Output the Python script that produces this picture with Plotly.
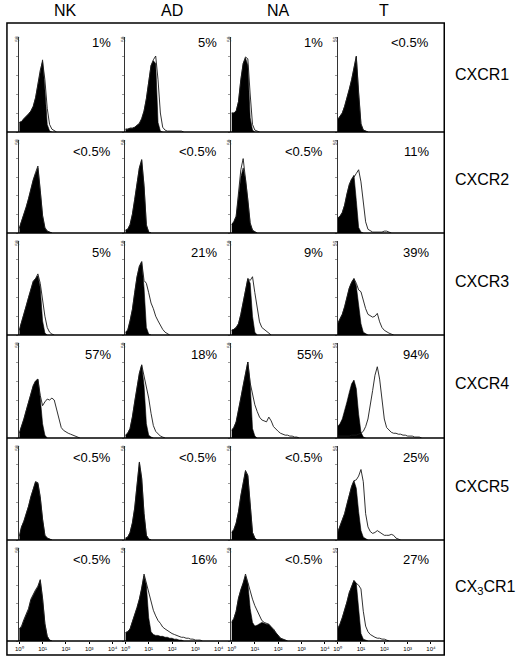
import plotly.graph_objects as go

W, H = 520, 657

# log10 fluorescence channel positions (decades 10^0 .. 10^4)
channels = [0.0, 0.1, 0.2, 0.3, 0.4, 0.5, 0.6, 0.7, 0.8, 0.9, 1.0, 1.1, 1.2, 1.3, 1.4,
            1.5, 1.6, 1.7, 1.8, 1.9, 2.0, 2.1, 2.2, 2.3, 2.4, 2.5, 2.6, 2.7, 2.8, 2.9,
            3.0, 3.1, 3.2, 3.3, 3.4, 3.5, 3.6, 3.7, 3.8, 3.9, 4.0]

cell_types = ["NK", "AD", "NA", "T"]
receptors = ["CXCR1", "CXCR2", "CXCR3", "CXCR4", "CXCR5", "CX<sub>3</sub>CR1"]
x_tick_labels = ["10\u2070", "10\u00b9", "10\u00b2", "10\u00b3", "10\u2074"]

percent_labels = [
    ["1%", "5%", "1%", "<0.5%"],
    ["<0.5%", "<0.5%", "<0.5%", "11%"],
    ["5%", "21%", "9%", "39%"],
    ["57%", "18%", "55%", "94%"],
    ["<0.5%", "<0.5%", "<0.5%", "25%"],
    ["<0.5%", "16%", "<0.5%", "27%"],
]

# ---- histogram heights (% of y-axis height), isotype control (filled) ----
NK_CXCR1_iso = [10, 11, 14, 16, 19, 22, 27, 36, 50, 65, 76, 45, 8, 1, 0]
AD_CXCR1_iso = [3, 3, 4, 4, 5, 7, 9, 14, 22, 35, 55, 70, 75, 72, 10, 1, 0]
NA_CXCR1_iso = [20, 20, 22, 32, 55, 72, 78, 70, 15, 2, 0]
T_CXCR1_iso = [13, 16, 20, 27, 35, 45, 55, 67, 79, 40, 8, 2, 1, 0]

NK_CXCR2_iso = [5, 12, 20, 28, 37, 48, 57, 64, 70, 45, 18, 5, 2, 1, 0]
AD_CXCR2_iso = [3, 4, 9, 20, 36, 52, 70, 78, 50, 8, 1, 0]
NA_CXCR2_iso = [9, 12, 18, 40, 60, 70, 58, 35, 10, 3, 1, 0]
T_CXCR2_iso = [16, 18, 22, 30, 42, 52, 58, 62, 35, 6, 1, 0]

NK_CXCR3_iso = [5, 13, 22, 31, 40, 50, 57, 60, 63, 50, 15, 2, 0]
AD_CXCR3_iso = [3, 5, 15, 27, 45, 62, 73, 78, 50, 8, 1, 0]
NA_CXCR3_iso = [5, 6, 8, 12, 22, 36, 50, 60, 55, 20, 3, 0]
T_CXCR3_iso = [12, 17, 22, 30, 40, 50, 56, 60, 52, 30, 12, 3, 1, 0]

NK_CXCR4_iso = [5, 12, 20, 29, 38, 47, 55, 60, 62, 42, 15, 3, 0]
AD_CXCR4_iso = [3, 5, 10, 22, 38, 55, 68, 77, 55, 15, 3, 1, 0]
NA_CXCR4_iso = [8, 11, 17, 28, 42, 55, 68, 80, 58, 10, 2, 0]
T_CXCR4_iso = [12, 15, 20, 28, 38, 48, 57, 61, 52, 25, 6, 1, 0]

NK_CXCR5_iso = [4, 14, 20, 27, 36, 46, 55, 62, 60, 45, 22, 5, 2, 1, 0]
AD_CXCR5_iso = [2, 3, 8, 18, 34, 60, 82, 65, 28, 5, 1, 0]
NA_CXCR5_iso = [8, 11, 18, 30, 47, 62, 73, 68, 35, 8, 2, 0]
T_CXCR5_iso = [8, 14, 20, 28, 38, 47, 57, 63, 55, 30, 10, 3, 1, 0]

NK_CX3CR1_iso = [13, 15, 22, 29, 34, 44, 50, 54, 58, 65, 45, 18, 5, 1, 0]
AD_CX3CR1_iso = [9, 10, 13, 20, 28, 36, 45, 56, 70, 60, 25, 10, 7, 6, 6, 5, 5, 4, 4, 3, 3, 2, 2, 1, 1, 0]
NA_CX3CR1_iso = [20, 24, 32, 46, 55, 62, 70, 62, 35, 20, 16, 17, 19, 20, 19, 18, 18, 15, 13, 9, 6, 3, 2, 1, 0]
T_CX3CR1_iso = [13, 18, 25, 33, 42, 52, 59, 65, 62, 35, 8, 2, 1, 0]

# ---- specific antibody staining (open outline) ----
NK_CXCR1_ab = [10, 11, 14, 16, 19, 22, 27, 36, 50, 65, 74, 55, 25, 8, 3, 1, 0]
AD_CXCR1_ab = [3, 3, 4, 4, 5, 7, 9, 14, 22, 35, 55, 70, 76, 80, 55, 20, 5, 2, 1, 1, 1, 1, 1, 1, 1, 0]
NA_CXCR1_ab = [20, 20, 22, 32, 55, 72, 79, 77, 40, 8, 2, 1, 0]
T_CXCR1_ab = [13, 16, 20, 27, 35, 45, 55, 67, 80, 42, 9, 2, 1, 0]

NK_CXCR2_ab = [5, 12, 20, 28, 37, 48, 57, 65, 72, 46, 19, 6, 2, 1, 0]
AD_CXCR2_ab = [3, 4, 9, 20, 36, 52, 70, 79, 51, 9, 1, 0]
NA_CXCR2_ab = [9, 12, 18, 42, 68, 80, 60, 36, 11, 3, 1, 0]
T_CXCR2_ab = [16, 18, 22, 30, 42, 52, 58, 60, 64, 68, 55, 30, 12, 4, 2, 1, 1, 1, 1, 1, 2, 2, 1, 0]

NK_CXCR3_ab = [5, 13, 22, 31, 40, 50, 57, 60, 65, 55, 35, 20, 8, 3, 1, 0]
AD_CXCR3_ab = [3, 5, 15, 27, 45, 62, 73, 78, 58, 55, 45, 34, 28, 20, 15, 10, 6, 3, 1, 0]
NA_CXCR3_ab = [5, 6, 8, 12, 22, 36, 50, 60, 58, 62, 45, 28, 14, 8, 6, 3, 1, 0]
T_CXCR3_ab = [12, 17, 22, 30, 40, 50, 56, 60, 55, 48, 46, 36, 28, 22, 20, 19, 20, 23, 14, 8, 5, 3, 2, 1, 0]

NK_CXCR4_ab = [5, 12, 20, 29, 38, 47, 55, 60, 62, 45, 34, 38, 41, 40, 42, 40, 30, 18, 11, 8, 6, 5, 4, 3, 2, 1, 0]
AD_CXCR4_ab = [3, 5, 10, 22, 38, 55, 68, 77, 66, 55, 42, 26, 13, 7, 4, 2, 1, 0]
NA_CXCR4_ab = [8, 11, 17, 28, 42, 55, 68, 80, 58, 45, 35, 28, 22, 19, 18, 17, 22, 18, 12, 9, 7, 5, 4, 3, 3, 2, 2, 1, 1, 0]
T_CXCR4_ab = [2, 2, 2, 2, 2, 2, 3, 3, 3, 4, 5, 7, 12, 20, 33, 50, 66, 75, 62, 38, 20, 11, 8, 6, 5, 5, 4, 4, 3, 3, 2, 2, 2, 1, 1, 1, 0]

NK_CXCR5_ab = [4, 14, 20, 27, 36, 46, 55, 62, 61, 46, 22, 5, 2, 1, 0]
AD_CXCR5_ab = [2, 3, 8, 18, 34, 60, 83, 66, 28, 5, 1, 0]
NA_CXCR5_ab = [8, 11, 18, 30, 47, 62, 74, 69, 36, 8, 2, 0]
T_CXCR5_ab = [8, 14, 20, 28, 38, 47, 57, 63, 64, 68, 75, 62, 28, 14, 9, 7, 8, 10, 8, 6, 5, 5, 5, 6, 5, 2, 1, 0]

NK_CX3CR1_ab = [13, 16, 23, 30, 35, 45, 51, 55, 59, 66, 46, 19, 5, 1, 0]
AD_CX3CR1_ab = [9, 10, 13, 20, 28, 36, 45, 56, 72, 62, 52, 42, 33, 27, 22, 19, 15, 13, 11, 9, 8, 7, 6, 5, 4, 4, 3, 3, 2, 2, 1, 1, 1, 0]
NA_CX3CR1_ab = [20, 24, 32, 46, 55, 62, 72, 62, 52, 45, 38, 32, 26, 22, 20, 19, 18, 15, 13, 9, 6, 3, 2, 1, 0]
T_CX3CR1_ab = [13, 18, 25, 33, 42, 52, 59, 65, 62, 60, 56, 32, 16, 10, 7, 5, 4, 3, 3, 2, 2, 1, 0]

iso_grid = [
    [NK_CXCR1_iso, AD_CXCR1_iso, NA_CXCR1_iso, T_CXCR1_iso],
    [NK_CXCR2_iso, AD_CXCR2_iso, NA_CXCR2_iso, T_CXCR2_iso],
    [NK_CXCR3_iso, AD_CXCR3_iso, NA_CXCR3_iso, T_CXCR3_iso],
    [NK_CXCR4_iso, AD_CXCR4_iso, NA_CXCR4_iso, T_CXCR4_iso],
    [NK_CXCR5_iso, AD_CXCR5_iso, NA_CXCR5_iso, T_CXCR5_iso],
    [NK_CX3CR1_iso, AD_CX3CR1_iso, NA_CX3CR1_iso, T_CX3CR1_iso],
]
ab_grid = [
    [NK_CXCR1_ab, AD_CXCR1_ab, NA_CXCR1_ab, T_CXCR1_ab],
    [NK_CXCR2_ab, AD_CXCR2_ab, NA_CXCR2_ab, T_CXCR2_ab],
    [NK_CXCR3_ab, AD_CXCR3_ab, NA_CXCR3_ab, T_CXCR3_ab],
    [NK_CXCR4_ab, AD_CXCR4_ab, NA_CXCR4_ab, T_CXCR4_ab],
    [NK_CXCR5_ab, AD_CXCR5_ab, NA_CXCR5_ab, T_CXCR5_ab],
    [NK_CX3CR1_ab, AD_CX3CR1_ab, NA_CX3CR1_ab, T_CX3CR1_ab],
]

# ---- layout geometry (pixels) ----
col_axis_x = [15.5, 123.5, 231.5, 339.5]
panel_w = 95
row_lines = [23, 132, 233, 335, 438, 540, 641]
frame = (3, 23, 448, 655)
FONT = "Liberation Sans, Arial, Helvetica, sans-serif"


def px(x):
    return x / W


def py(y):
    return 1 - y / H


fig = go.Figure()
layout = dict(
    width=W, height=H, margin=dict(l=0, r=0, t=0, b=0),
    paper_bgcolor="white", plot_bgcolor="rgba(0,0,0,0)",
    showlegend=False, font=dict(family=FONT, color="black"),
)
annotations = []
shapes = []

k = 0
for r in range(6):
    top = row_lines[r] + (14 if r == 0 else 8)
    bottom = row_lines[r + 1]
    for c in range(4):
        k += 1
        sx = "" if k == 1 else str(k)
        ax = col_axis_x[c]
        iso = iso_grid[r][c]
        ab = ab_grid[r][c]
        fig.add_trace(go.Scatter(
            x=channels[:len(iso)], y=iso, mode="lines", fill="tozeroy",
            fillcolor="black", line=dict(color="black", width=0.6),
            xaxis="x" + sx, yaxis="y" + sx, hoverinfo="skip"))
        fig.add_trace(go.Scatter(
            x=channels[:len(ab)], y=ab, mode="lines",
            line=dict(color="#1a1a1a", width=0.9),
            xaxis="x" + sx, yaxis="y" + sx, hoverinfo="skip"))
        last = r == 5
        layout["xaxis" + sx] = dict(
            domain=[px(ax), px(ax + panel_w)], range=[0, 4], anchor="y" + sx,
            showgrid=False, zeroline=False, showline=False,
            tickvals=[0, 1, 2, 3, 4] if last else [],
            ticktext=x_tick_labels if last else [],
            ticks="outside" if last else "", ticklen=2, tickcolor="black",
            showticklabels=last, tickfont=dict(size=6, family=FONT),
            fixedrange=True,
        )
        layout["yaxis" + sx] = dict(
            domain=[py(bottom), py(top)], range=[0, 100], anchor="x" + sx,
            showgrid=False, zeroline=False, showline=True, linecolor="#333",
            linewidth=1, ticks="outside", ticklen=2, tickwidth=0.6,
            tickcolor="#555", tickvals=[0, 20, 40, 60, 80, 100],
            showticklabels=False, fixedrange=True,
        )
        # percent label
        annotations.append(dict(
            x=px(ax + panel_w), y=py(row_lines[r] + 19.5), xref="paper", yref="paper",
            text=percent_labels[r][c], showarrow=False, xanchor="right",
            yanchor="middle", font=dict(size=13, family=FONT)))
        # tiny y-axis max label
        annotations.append(dict(
            x=px(ax - 2.5), y=py(top + 2), xref="paper", yref="paper",
            text="50", showarrow=False, xanchor="center", yanchor="middle",
            textangle=-90, font=dict(size=5, family=FONT, color="#333")))

# column headers
for c, name in enumerate(cell_types):
    annotations.append(dict(
        x=px(col_axis_x[c] + panel_w / 2), y=py(10), xref="paper", yref="paper",
        text=name, showarrow=False, xanchor="center", yanchor="middle",
        font=dict(size=16, family=FONT)))

# row labels
for r, name in enumerate(receptors):
    yc = (row_lines[r] + row_lines[r + 1]) / 2 - 3
    annotations.append(dict(
        x=px(457), y=py(yc), xref="paper", yref="paper",
        text=name, showarrow=False, xanchor="left", yanchor="middle",
        font=dict(size=16, family=FONT)))

# outer frame and row separator (x-axis) lines
shapes.append(dict(type="rect", xref="paper", yref="paper",
                   x0=px(frame[0]), x1=px(frame[2]), y0=py(frame[3]), y1=py(frame[1]),
                   line=dict(color="black", width=1.5)))
for yl in row_lines[1:]:
    shapes.append(dict(type="line", xref="paper", yref="paper",
                       x0=px(frame[0]), x1=px(frame[2]), y0=py(yl), y1=py(yl),
                       line=dict(color="black", width=1.5)))

layout["annotations"] = annotations
layout["shapes"] = shapes
fig.update_layout(**layout)
fig.write_html(
    "out.html",
    config={"displayModeBar": False, "staticPlot": True},
    post_script="document.body.style.margin='0';document.body.style.overflow='hidden';",
)
